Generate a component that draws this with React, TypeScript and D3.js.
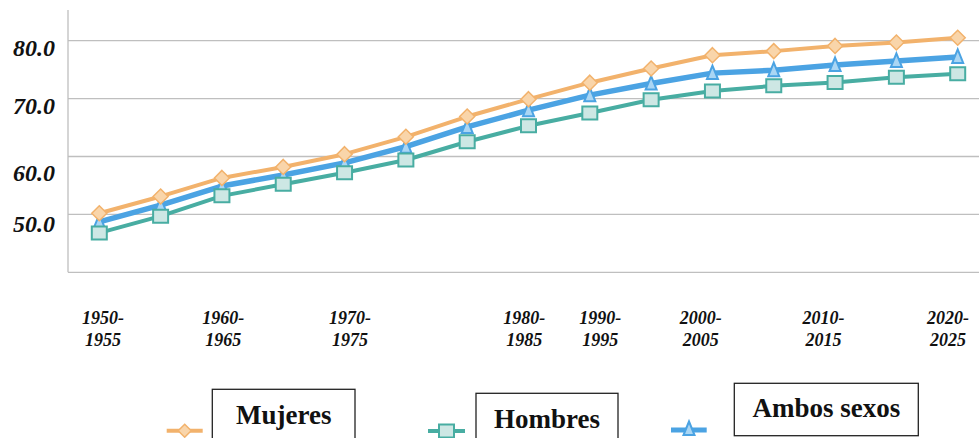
import React from "react";
import * as d3 from "d3";

const periods = [
  "1950-1955", "1955-1960", "1960-1965", "1965-1970", "1970-1975",
  "1975-1980", "1980-1985", "1985-1990", "1990-1995", "1995-2000",
  "2000-2005", "2005-2010", "2010-2015", "2015-2020", "2020-2025",
];
const mujeres = [50.2, 53.1, 56.3, 58.2, 60.4, 63.4, 66.9, 69.9, 72.75, 75.2, 77.5, 78.2, 79.1, 79.7, 80.5];
const hombres = [46.8, 49.7, 53.2, 55.2, 57.2, 59.4, 62.55, 65.3, 67.5, 69.8, 71.3, 72.2, 72.8, 73.7, 74.3];
const ambos = [48.7, 51.6, 54.9, 56.8, 58.9, 61.7, 65.1, 68.0, 70.6, 72.6, 74.4, 74.9, 75.8, 76.5, 77.2];

const yTicks = [40, 50, 60, 70, 80];
const yTickLabels = ["50.0", "60.0", "70.0", "80.0"];
// label anchor values (as placed in the original, slightly below the grid lines)
const yLabelAnchors = [48.3, 57.2, 68.8, 78.8];
const xTickLabels = ["1950-1955", "1960-1965", "1970-1975", "1980-1985", "1990-1995", "2000-2005", "2010-2015", "2020-2025"];
// label anchors in category-index units (as placed in the original)
const xLabelAnchors = [0.06, 2.02, 4.09, 6.93, 8.17, 9.81, 11.81, 13.84];

const W = 979, H = 438;
const plotLeft = 68, plotRight = 979, plotBottom = 272.3, plotTop = 10;

const COLORS = {
  mujeres: { line: "#F2B26C", fill: "#F9D5AA" },
  hombres: { line: "#48ADA2", fill: "#CDE7E4" },
  ambos: { line: "#4BA3E3", fill: "#AAD6F4" },
};

export default function App() {
  const x = d3.scaleLinear().domain([0, periods.length - 1]).range([99.3, 957.7]);
  const y = d3.scaleLinear().domain([40, 80]).range([plotBottom, 40.7]);
  const line = d3.line<number>().x((_, i) => x(i)).y((d) => y(d));

  const diamond = (cx: number, cy: number, r = 7.5) =>
    `M${cx},${cy - r}L${cx + r},${cy}L${cx},${cy + r}L${cx - r},${cy}Z`;
  const square = (cx: number, cy: number) => `M${cx - 7.5},${cy - 6.5}h15v13h-15Z`;
  const tri = (cx: number, cy: number) => `M${cx},${cy - 7.5}L${cx + 5.5},${cy + 6}L${cx - 5.5},${cy + 6}Z`;

  const serif = "'Liberation Serif', 'Times New Roman', serif";

  return (
    <svg width={W} height={H} style={{ position: "absolute", left: 0, top: 0, background: "#fff" }}>
      {/* grid */}
      {yTicks.slice(1).map((t) => (
        <line key={t} x1={plotLeft} x2={plotRight} y1={y(t)} y2={y(t)} stroke="#BFBFBF" strokeWidth={1.3} />
      ))}
      {/* axes */}
      <line x1={plotLeft} x2={plotLeft} y1={plotTop} y2={plotBottom} stroke="#BFBFBF" strokeWidth={1.3} />
      <line x1={plotLeft} x2={plotRight} y1={plotBottom} y2={plotBottom} stroke="#BFBFBF" strokeWidth={1.3} />

      {/* y labels */}
      {yTickLabels.map((l, i) => (
        <text key={l} x={55} y={y(yLabelAnchors[i])} textAnchor="end" dominantBaseline="central"
          fontFamily={serif} fontWeight="bold" fontStyle="italic" fontSize={24} fill="#111">{l}</text>
      ))}

      {/* x labels */}
      {xTickLabels.map((l, i) => {
        const [a, b] = l.split("-");
        return (
          <text key={l} x={x(xLabelAnchors[i])} textAnchor="middle" fontFamily={serif} fontWeight="bold"
            fontStyle="italic" fontSize={18} fill="#111">
            <tspan x={x(xLabelAnchors[i])} y={324}>{a}-</tspan>
            <tspan x={x(xLabelAnchors[i])} y={346}>{b}</tspan>
          </text>
        );
      })}

      {/* series */}
      <path d={line(ambos) || ""} fill="none" stroke={COLORS.ambos.line} strokeWidth={5.5} strokeLinejoin="round" />
      {ambos.map((v, i) => (
        <path key={"a" + i} d={tri(x(i), y(v))} fill={COLORS.ambos.fill} stroke={COLORS.ambos.line} strokeWidth={2} />
      ))}
      <path d={line(hombres) || ""} fill="none" stroke={COLORS.hombres.line} strokeWidth={4} strokeLinejoin="round" />
      {hombres.map((v, i) => (
        <path key={"h" + i} d={square(x(i), y(v))} fill={COLORS.hombres.fill} stroke={COLORS.hombres.line} strokeWidth={2} />
      ))}
      <path d={line(mujeres) || ""} fill="none" stroke={COLORS.mujeres.line} strokeWidth={4} strokeLinejoin="round" />
      {mujeres.map((v, i) => (
        <path key={"m" + i} d={diamond(x(i), y(v))} fill={COLORS.mujeres.fill} stroke={COLORS.mujeres.line} strokeWidth={1.5} />
      ))}

      {/* legend */}
      <g>
        <line x1={166.7} x2={202.7} y1={430.7} y2={430.7} stroke={COLORS.mujeres.line} strokeWidth={4} />
        <path d={diamond(184.7, 430.7, 6.5)} fill={COLORS.mujeres.fill} stroke={COLORS.mujeres.line} strokeWidth={1.5} />
        <rect x={212.3} y={389.3} width={142.7} height={60} fill="#fff" stroke="#222" strokeWidth={1.3} />
        <text x={283.7} y={424} textAnchor="middle" fontFamily={serif} fontWeight="bold" fontSize={27} fill="#111">Mujeres</text>

        <line x1={428} x2={465} y1={431} y2={431} stroke={COLORS.hombres.line} strokeWidth={4} />
        <path d={square(446.5, 431)} fill={COLORS.hombres.fill} stroke={COLORS.hombres.line} strokeWidth={2} />
        <rect x={476} y={393.3} width={142} height={60} fill="#fff" stroke="#222" strokeWidth={1.3} />
        <text x={547} y={428} textAnchor="middle" fontFamily={serif} fontWeight="bold" fontSize={27} fill="#111">Hombres</text>

        <line x1={671} x2={706.7} y1={430} y2={430} stroke={COLORS.ambos.line} strokeWidth={5} />
        <path d={tri(689, 429)} fill={COLORS.ambos.fill} stroke={COLORS.ambos.line} strokeWidth={2} />
        <rect x={734.3} y={383.3} width={184} height={52.4} fill="#fff" stroke="#222" strokeWidth={1.3} />
        <text x={826.3} y={417} textAnchor="middle" fontFamily={serif} fontWeight="bold" fontSize={27} fill="#111">Ambos sexos</text>
      </g>
    </svg>
  );
}
